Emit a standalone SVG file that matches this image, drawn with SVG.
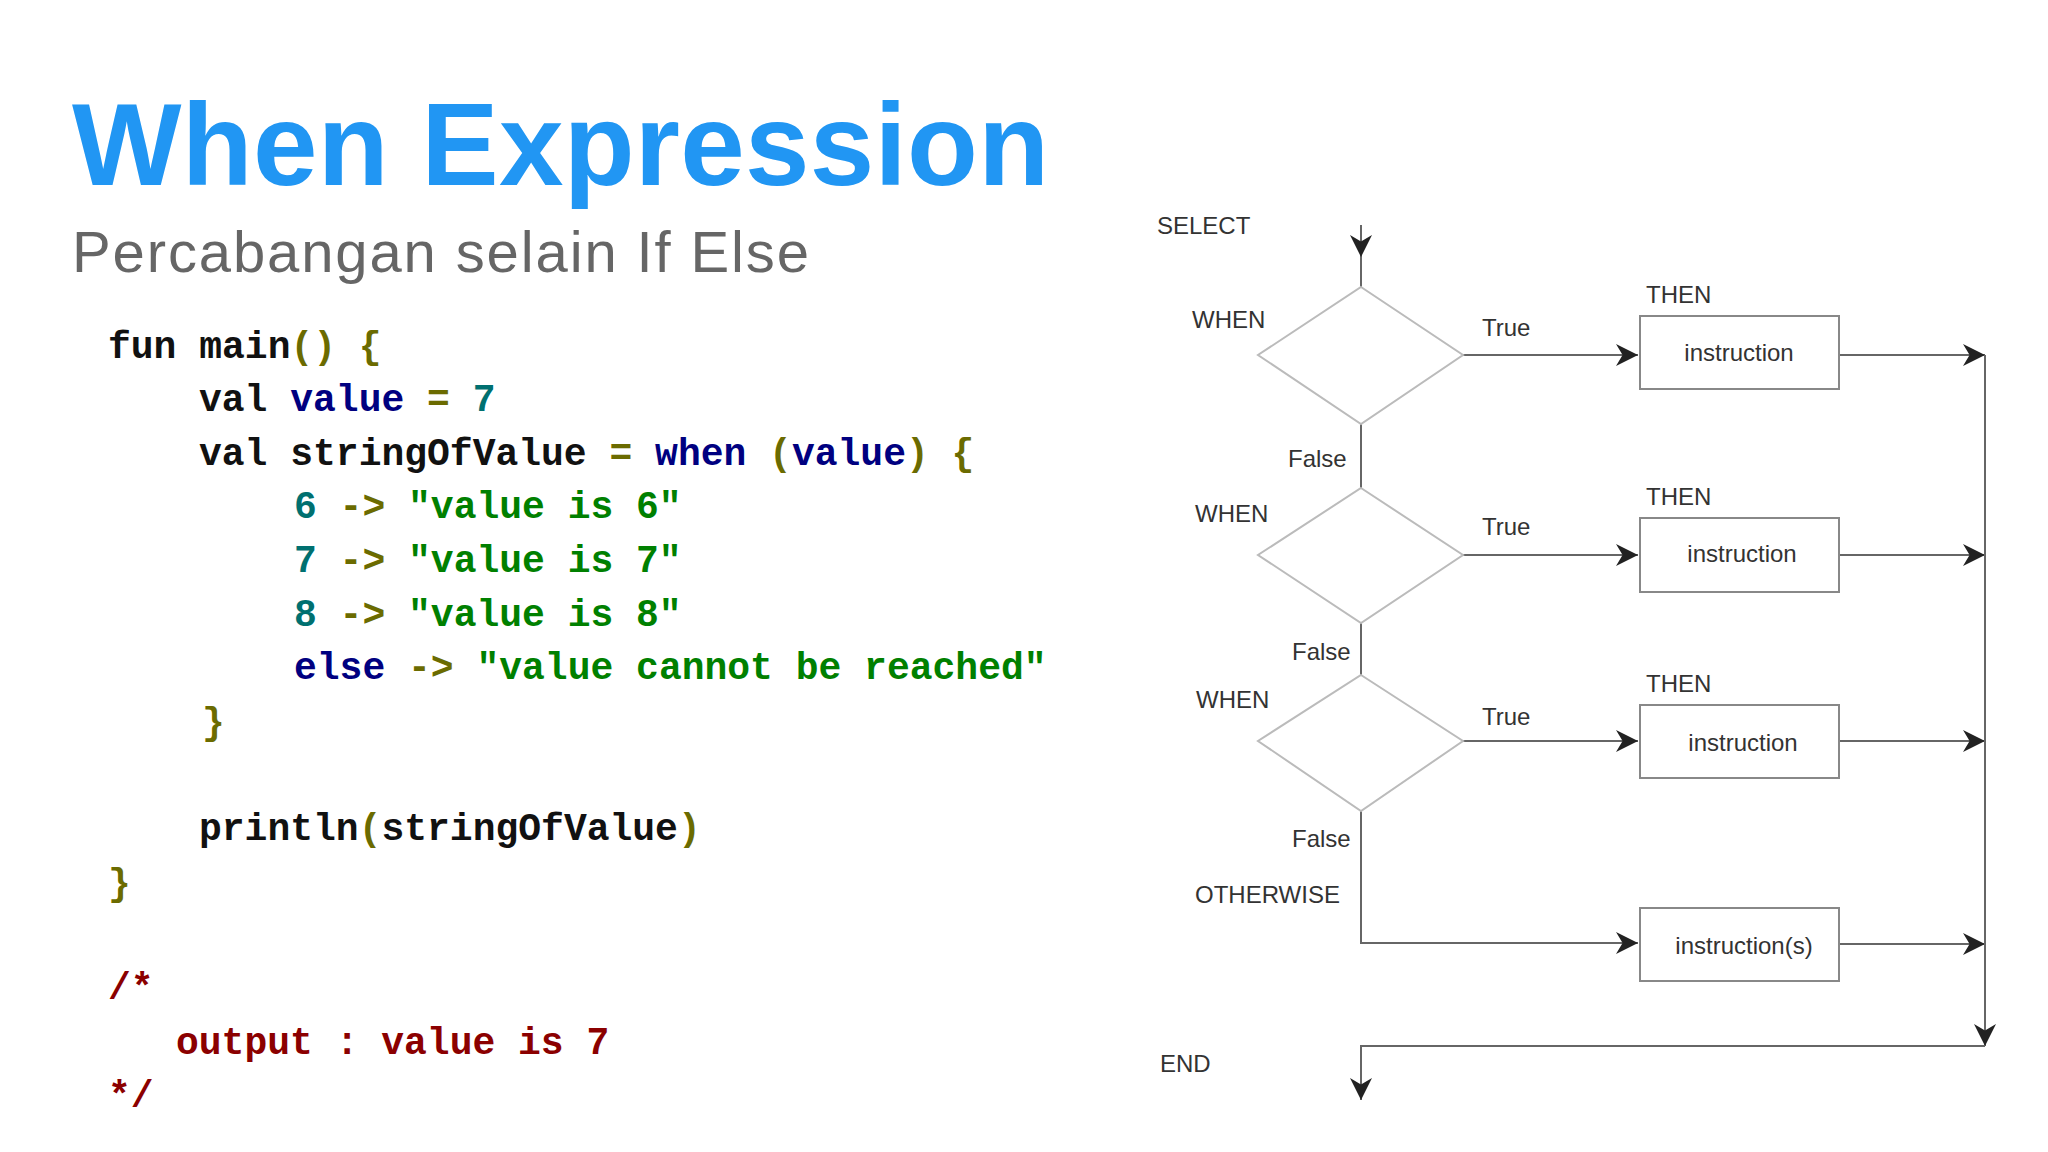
<svg xmlns="http://www.w3.org/2000/svg" width="2048" height="1152" viewBox="0 0 2048 1152">
<style>
.code{font-family:"Liberation Mono","Courier New",monospace;font-weight:bold;font-size:38px;white-space:pre}
.k{fill:#111}.v{fill:#000080}.o{fill:#6b6b00}.n{fill:#007070}.s{fill:#008000}.c{fill:#8b0000}
.lbl{font-family:"Liberation Sans",Arial,sans-serif;font-size:24px;fill:#333;dominant-baseline:central}
.dia{fill:none;stroke:#bbb;stroke-width:2}
.box{fill:#fff;stroke:#888;stroke-width:2}
.ln{fill:none;stroke:#666;stroke-width:2}
</style>
<defs><marker id="ah" viewBox="0 0 10 10" refX="10" refY="5" markerWidth="10" markerHeight="10" markerUnits="userSpaceOnUse" orient="auto"><path d="M0,0 L10,5 L0,10 L3,5 z" fill="#222"/></marker>
<marker id="ahb" viewBox="0 0 10 10" refX="10" refY="5" markerWidth="22" markerHeight="22" markerUnits="userSpaceOnUse" orient="auto"><path d="M0,0 L10,5 L0,10 L3,5 z" fill="#222"/></marker></defs>
<rect width="2048" height="1152" fill="#fff"/>
<text x="72" y="185" font-family="Liberation Sans,Arial,sans-serif" font-weight="bold" font-size="116" fill="#2196f3" textLength="977">When Expression</text>
<text x="72" y="272" font-family="Liberation Sans,Arial,sans-serif" font-size="58" fill="#666" textLength="737">Percabangan selain If Else</text>
<g id="code" class="code" xml:space="preserve">
<text x="108" y="358"><tspan class="k">fun main</tspan><tspan class="o">() {</tspan></text>
<text x="199" y="411"><tspan class="k">val </tspan><tspan class="v">value</tspan><tspan class="o"> = </tspan><tspan class="n">7</tspan></text>
<text x="199" y="465"><tspan class="k">val stringOfValue </tspan><tspan class="o">= </tspan><tspan class="v">when </tspan><tspan class="o">(</tspan><tspan class="v">value</tspan><tspan class="o">) {</tspan></text>
<text x="294" y="518"><tspan class="n">6 </tspan><tspan class="o">-&gt; </tspan><tspan class="s">"value is 6"</tspan></text>
<text x="294" y="572"><tspan class="n">7 </tspan><tspan class="o">-&gt; </tspan><tspan class="s">"value is 7"</tspan></text>
<text x="294" y="626"><tspan class="n">8 </tspan><tspan class="o">-&gt; </tspan><tspan class="s">"value is 8"</tspan></text>
<text x="294" y="679"><tspan class="v">else </tspan><tspan class="o">-&gt; </tspan><tspan class="s">"value cannot be reached"</tspan></text>
<text x="202" y="734" class="o">}</text>
<text x="199" y="840"><tspan class="k">println</tspan><tspan class="o">(</tspan><tspan class="k">stringOfValue</tspan><tspan class="o">)</tspan></text>
<text x="108" y="895" class="o">}</text>
<text x="108" y="999" class="c">/*</text>
<text x="176" y="1054" class="c">output : value is 7</text>
<text x="108" y="1107" class="c">*/</text>
</g>
<g id="connectors">
<line class="ln" x1="1361" y1="225" x2="1361" y2="257" marker-end="url(#ahb)"/>
<line class="ln" x1="1361" y1="257" x2="1361" y2="287"/>
<line class="ln" x1="1361" y1="424" x2="1361" y2="488"/>
<line class="ln" x1="1361" y1="623" x2="1361" y2="675"/>
<polyline class="ln" points="1361,811 1361,943 1638,943" marker-end="url(#ahb)"/>
<line class="ln" x1="1463" y1="355" x2="1638" y2="355" marker-end="url(#ahb)"/>
<line class="ln" x1="1463" y1="555" x2="1638" y2="555" marker-end="url(#ahb)"/>
<line class="ln" x1="1463" y1="741" x2="1638" y2="741" marker-end="url(#ahb)"/>
<line class="ln" x1="1839" y1="355" x2="1985" y2="355" marker-end="url(#ahb)"/>
<line class="ln" x1="1839" y1="555" x2="1985" y2="555" marker-end="url(#ahb)"/>
<line class="ln" x1="1839" y1="741" x2="1985" y2="741" marker-end="url(#ahb)"/>
<line class="ln" x1="1839" y1="944" x2="1985" y2="944" marker-end="url(#ahb)"/>
<line class="ln" x1="1985" y1="355" x2="1985" y2="1046" marker-end="url(#ahb)"/>
<polyline class="ln" points="1985,1046 1361,1046 1361,1100" marker-end="url(#ahb)"/>
</g>
<g id="d1"><polygon class="dia" points="1361,287 1463,355 1361,424 1258,355"/></g>
<g id="d2"><polygon class="dia" points="1361,488 1463,555 1361,623 1258,555"/></g>
<g id="d3"><polygon class="dia" points="1361,675 1463,741 1361,811 1258,741"/></g>
<g id="b1"><rect class="box" x="1640" y="316" width="199" height="73"/><text class="lbl" x="1739" y="352" text-anchor="middle">instruction</text></g>
<g id="b2"><rect class="box" x="1640" y="518" width="199" height="74"/><text class="lbl" x="1742" y="553" text-anchor="middle">instruction</text></g>
<g id="b3"><rect class="box" x="1640" y="705" width="199" height="73"/><text class="lbl" x="1743" y="742" text-anchor="middle">instruction</text></g>
<g id="b4"><rect class="box" x="1640" y="908" width="199" height="73"/><text class="lbl" x="1744" y="945" text-anchor="middle">instruction(s)</text></g>
<g id="labels">
<text class="lbl" x="1157" y="225">SELECT</text>
<text class="lbl" x="1192" y="319">WHEN</text>
<text class="lbl" x="1482" y="327">True</text>
<text class="lbl" x="1646" y="294">THEN</text>
<text class="lbl" x="1288" y="458">False</text>
<text class="lbl" x="1195" y="513">WHEN</text>
<text class="lbl" x="1482" y="526">True</text>
<text class="lbl" x="1646" y="496">THEN</text>
<text class="lbl" x="1292" y="651">False</text>
<text class="lbl" x="1196" y="699">WHEN</text>
<text class="lbl" x="1482" y="716">True</text>
<text class="lbl" x="1646" y="683">THEN</text>
<text class="lbl" x="1292" y="838">False</text>
<text class="lbl" x="1195" y="894">OTHERWISE</text>
<text class="lbl" x="1160" y="1063">END</text>
</g>
</svg>
